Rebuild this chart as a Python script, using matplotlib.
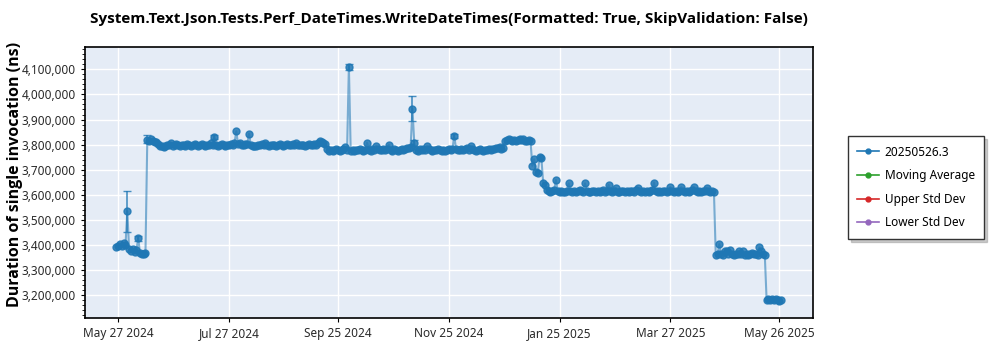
import matplotlib
matplotlib.use("Agg")
import matplotlib.pyplot as plt
from matplotlib.lines import Line2D
from matplotlib.ticker import FuncFormatter, AutoMinorLocator
import pandas as pd

plt.rcParams["font.family"] = ["Noto Sans", "DejaVu Sans"]

title = "System.Text.Json.Tests.Perf_DateTimes.WriteDateTimes(Formatted: True, SkipValidation: False)"
build_label = "20250526.3"
first_day = "2024-05-26"

# one run per day, thousands of ns
early_runs = [3392, 3398, 3403, 3396, 3407, 3399, 3535, 3384, 3377, 3386, 3372, 3379, 3428, 3368, 3363, 3366, 3369]

first_plateau = [3818, 3813, 3821, 3816, 3809, 3812, 3804, 3796, 3793, 3791,
                 3795, 3798, 3797, 3806, 3796, 3799, 3803, 3797, 3795, 3800,
                 3798, 3796, 3802, 3799, 3794, 3797, 3801, 3798, 3796, 3799,
                 3803, 3798, 3795, 3797, 3800, 3806, 3799, 3832, 3797, 3796,
                 3799, 3801, 3797, 3795, 3798, 3800, 3803, 3799, 3806, 3853,
                 3802, 3807, 3799, 3797, 3804, 3801, 3844, 3798, 3795, 3793,
                 3796, 3799, 3797, 3801, 3798, 3806, 3799, 3796, 3798, 3800,
                 3797, 3795, 3799, 3802, 3798, 3796, 3800, 3804, 3798, 3797,
                 3801, 3798, 3806, 3799, 3797, 3800, 3798, 3796, 3799, 3802,
                 3798, 3800, 3803, 3799, 3806, 3813, 3811, 3808, 3801]

second_plateau = [3781, 3776, 3779, 3774, 3778, 3781, 3777, 3775, 3779, 3783,
                  3792, 3778, 4111, 3776, 3779, 3774, 3780, 3777, 3781, 3778,
                  3776, 3780, 3808, 3779, 3776, 3783, 3779, 3796, 3781, 3777,
                  3779, 3782, 3778, 3784, 3800, 3779, 3776, 3781, 3778, 3775,
                  3778, 3781, 3779, 3783, 3786, 3788, 3792, 3943, 3806, 3779,
                  3776, 3781, 3778, 3783, 3779, 3795, 3782, 3778, 3776, 3780,
                  3777, 3781, 3779, 3775, 3778, 3776, 3780, 3783, 3779, 3781,
                  3835, 3784, 3779, 3777, 3781, 3778, 3782, 3786, 3779, 3795,
                  3782, 3778, 3776, 3779, 3781, 3777, 3775, 3778, 3780, 3782,
                  3779, 3783, 3781, 3785, 3788, 3790, 3784, 3786]

year_end_step = [3816, 3819, 3823, 3817, 3815, 3818, 3816, 3820, 3822, 3817, 3821, 3816, 3814, 3818, 3815]

january_dip = [3716, 3742, 3690, 3686, 3752, 3745, 3647, 3640]

third_plateau = [3621, 3616, 3613, 3615, 3618, 3659, 3614, 3612, 3616, 3613,
                 3611, 3615, 3646, 3614, 3612, 3617, 3613, 3615, 3619, 3614,
                 3612, 3646, 3616, 3613, 3611, 3614, 3617, 3613, 3615, 3612,
                 3614, 3618, 3613, 3616, 3640, 3615, 3612, 3614, 3627, 3613,
                 3611, 3614, 3616, 3613, 3615, 3612, 3614, 3617, 3613, 3619,
                 3627, 3615, 3612, 3614, 3613, 3616, 3612, 3615, 3618, 3649,
                 3614, 3612, 3615, 3613, 3617, 3614, 3612, 3616, 3631, 3614,
                 3612, 3615, 3613, 3617, 3631, 3614, 3612, 3615, 3613, 3616,
                 3619, 3631, 3614, 3613, 3615, 3612, 3617, 3616, 3627, 3614,
                 3613, 3615, 3612]

april_plateau = [3362, 3366, 3404, 3364, 3361, 3378, 3375, 3363, 3380, 3366,
                 3362, 3365, 3363, 3378, 3366, 3376, 3362, 3365, 3361, 3364,
                 3367, 3363, 3366, 3362, 3391, 3375, 3364, 3361]

may_runs = [3182, 3186, 3180, 3184, 3181, 3185, 3183, 3179, 3182]

# runs with a visible spread (low, high), thousands of ns
spread_dates = ["2024-06-01", "2024-06-07", "2024-06-12", "2024-06-25", "2024-07-19",
                "2024-10-01", "2024-11-05", "2024-11-06", "2024-11-28"]
spread_low = [3451, 3418, 3806, 3798, 3824, 4098, 3893, 3795, 3827]
spread_high = [3617, 3438, 3837, 3812, 3840, 4121, 3994, 3819, 3843]

tick_dates = ["2024-05-27", "2024-07-27", "2024-09-25", "2024-11-25",
              "2025-01-25", "2025-03-27", "2025-05-26"]

values = (early_runs + first_plateau + second_plateau + year_end_step
          + january_dip + third_plateau + april_plateau + may_runs)
runs = pd.Series([v * 1000 for v in values],
                 index=pd.date_range(first_day, periods=len(values), freq="D"))

spread_x = pd.to_datetime(spread_dates)
spread_mid = runs.loc[spread_x].values
lower = [m - lo * 1000 for m, lo in zip(spread_mid, spread_low)]
upper = [hi * 1000 - m for m, hi in zip(spread_mid, spread_high)]

blue = "#1f77b4"
bold_font = ["Open Sans", "Lato", "DejaVu Sans"]

fig = plt.figure(figsize=(10, 3.5), dpi=100)
ax = fig.add_axes([0.085, 0.0914, 0.7283, 0.7752])
ax.set_facecolor("#e5ecf6")

ax.plot(runs.index, runs.values, color=blue, lw=1.5, alpha=0.55, zorder=2)
ax.plot(runs.index, runs.values, ls="none", marker="o", ms=5.0,
        color=blue, alpha=0.85, zorder=3)
ax.errorbar(spread_x, spread_mid, yerr=[lower, upper], fmt="none",
            ecolor=blue, elinewidth=1.2, capsize=2.6, alpha=0.8, zorder=3)

ax.set_xlim(pd.Timestamp("2024-05-08 17:00"), pd.Timestamp("2025-06-13 17:00"))
ax.set_ylim(3110000, 4190000)

ax.set_xticks(pd.to_datetime(tick_dates))
ax.set_xticklabels([pd.Timestamp(d).strftime("%b %d %Y") for d in tick_dates])
ax.set_yticks(range(3200000, 4100001, 100000))
ax.yaxis.set_major_formatter(FuncFormatter(lambda v, p: f"{int(v):,}"))
ax.yaxis.set_minor_locator(AutoMinorLocator(5))

ax.grid(True, color="white", lw=1)
ax.set_axisbelow(True)
for s in ax.spines.values():
    s.set_color("black")
    s.set_linewidth(1.2)
ax.tick_params(labelsize=8.5, labelcolor="#2a2a2a", length=3, width=0.8)
ax.tick_params(axis="y", which="minor", length=2, width=0.6)

fig.text(0.449, 0.947, title, ha="center", va="center",
         fontsize=11, fontweight="bold", family=bold_font)
fig.text(0.015, 0.503, "Duration of single invocation (ns)", rotation=90,
         ha="center", va="center", fontsize=11.5, fontweight="bold", family=bold_font)

handles = [Line2D([], [], color=c, lw=1.2, marker="o", ms=3.5)
           for c in [blue, "#2ca02c", "#d62728", "#9467bd"]]
labels = [build_label, "Moving Average", "Upper Std Dev", "Lower Std Dev"]
leg = fig.legend(handles, labels, loc="upper left",
                 bbox_to_anchor=(0.848, 0.611), bbox_transform=fig.transFigure,
                 borderaxespad=0, fancybox=False, shadow={"color": "0.6", "alpha": 0.5},
                 fontsize=8.5, handlelength=1.8, handletextpad=0.5, labelspacing=0.9,
                 borderpad=0.8, edgecolor="#333333", framealpha=1)
leg.get_frame().set_linewidth(1.0)

fig.savefig("out.png", dpi=100)
